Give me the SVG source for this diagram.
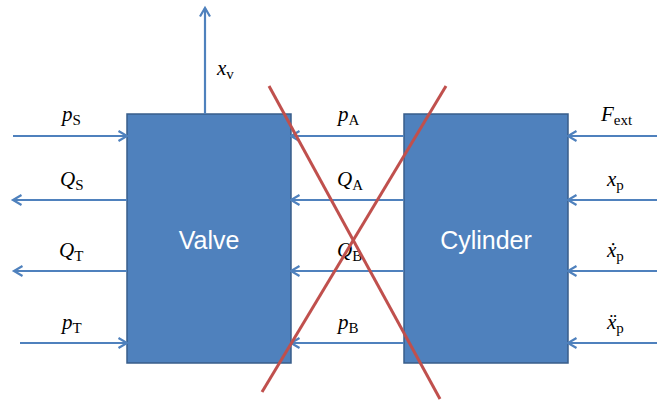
<svg xmlns="http://www.w3.org/2000/svg" width="657" height="401" viewBox="0 0 657 401">
<style>
.box{fill:#4F81BD;stroke:#385D8A;stroke-width:1.5}
.name{font-family:"Liberation Sans",Arial,sans-serif;font-size:25px;fill:#FFFFFF;text-anchor:middle}
.arr{stroke:#4F81BD;stroke-width:2.2;fill:none;marker-end:url(#ah)}
.m{font-family:"Liberation Serif","Times New Roman",serif;font-size:21px;font-style:italic;fill:#000}
.s{font-style:normal;font-size:15px}
.cross{stroke:#C0504D;stroke-width:3;fill:none}
</style>
<defs>
<marker id="ah" markerUnits="userSpaceOnUse" markerWidth="12" markerHeight="12" viewBox="0 0 12 12" refX="10.5" refY="6" orient="auto" overflow="visible">
<path d="M2,1 L10.5,6 L2,11" stroke="#4F81BD" stroke-width="2.2" fill="none"/>
</marker>
</defs>
<rect width="657" height="401" fill="#FFFFFF"/>
<g id="valve">
<rect class="box" x="127" y="114" width="164" height="249"/>
<text class="name" x="209" y="249">Valve</text>
</g>
<g id="cylinder">
<rect class="box" x="404" y="114" width="164" height="249"/>
<text class="name" x="486" y="249">Cylinder</text>
</g>
<g id="connectors">
<line class="arr" x1="205" y1="114" x2="205" y2="8"/>
<line class="arr" x1="13" y1="136" x2="127" y2="136"/>
<line class="arr" x1="127" y1="200" x2="13" y2="200"/>
<line class="arr" x1="127" y1="271" x2="14" y2="271"/>
<line class="arr" x1="20" y1="343" x2="127" y2="343"/>
<line class="arr" x1="404" y1="136" x2="291" y2="136"/>
<line class="arr" x1="404" y1="200" x2="291" y2="200"/>
<line class="arr" x1="404" y1="271" x2="291" y2="271"/>
<line class="arr" x1="404" y1="343" x2="291" y2="343"/>
<line class="arr" x1="657" y1="136" x2="568" y2="136"/>
<line class="arr" x1="657" y1="200" x2="568" y2="200"/>
<line class="arr" x1="657" y1="271" x2="568" y2="271"/>
<line class="arr" x1="657" y1="343" x2="568" y2="343"/>
</g>
<g id="labels">
<text class="m" x="217" y="75">x<tspan class="s" dy="4">v</tspan></text>
<text class="m" x="62" y="121">p<tspan class="s" dy="4">S</tspan></text>
<text class="m" x="60" y="186">Q<tspan class="s" dy="4">S</tspan></text>
<text class="m" x="59" y="257">Q<tspan class="s" dy="4">T</tspan></text>
<text class="m" x="62" y="329">p<tspan class="s" dy="4">T</tspan></text>
<text class="m" x="338" y="121">p<tspan class="s" dy="4">A</tspan></text>
<text class="m" x="337" y="186">Q<tspan class="s" dy="4">A</tspan></text>
<text class="m" x="337" y="257">Q<tspan class="s" dy="4">B</tspan></text>
<text class="m" x="338" y="329">p<tspan class="s" dy="4">B</tspan></text>
<text class="m" x="601" y="121">F<tspan class="s" dy="4">ext</tspan></text>
<text class="m" x="607" y="186">x<tspan class="s" dy="4">p</tspan></text>
<text class="m" x="607" y="257">ẋ<tspan class="s" dy="4">p</tspan></text>
<text class="m" x="607" y="329">ẍ<tspan class="s" dy="4">p</tspan></text>
</g>
<g id="cross">
<line class="cross" x1="269" y1="86" x2="440" y2="399"/>
<line class="cross" x1="446" y1="86" x2="262" y2="392"/>
</g>
</svg>
